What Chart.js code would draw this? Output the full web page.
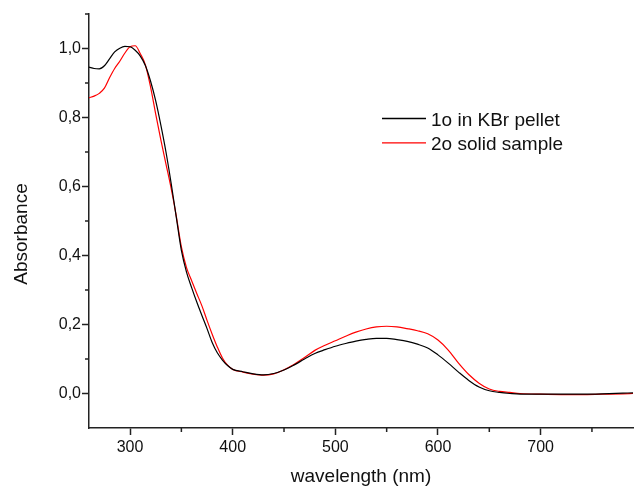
<!DOCTYPE html>
<html>
<head>
<meta charset="utf-8">
<script src="https://cdn.jsdelivr.net/npm/chart.js@4/dist/chart.umd.min.js"></script>
<style>
  body { margin: 0; background: #fff; }
  #wrap { width: 634px; height: 488px; }
</style>
</head>
<body>
<div id="wrap"><canvas id="grafico"></canvas></div>
<script>
// wavelength (nm)
const wavelengths = [
    260, 265, 270, 275, 280, 285, 290, 295, 300, 305, 310, 315, 320, 325, 330,
    335, 340, 345, 350, 355, 360, 365, 370, 375, 380, 385, 390, 395, 400,
    410, 420, 430, 440, 450, 460, 470, 480, 490, 500, 510, 520, 530, 540, 550,
    560, 570, 580, 590, 600, 610, 620, 630, 640, 650, 660, 670, 680,
    700, 720, 740, 760, 780, 790
];

// 1o in KBr pellet
const kbr = [
    0.946, 0.942, 0.941, 0.950, 0.970, 0.990, 1.001, 1.006, 1.005, 0.995, 0.978, 0.950, 0.905, 0.848, 0.778,
    0.700, 0.610, 0.512, 0.415, 0.352, 0.307, 0.265, 0.226, 0.188, 0.148, 0.118, 0.097, 0.081, 0.070,
    0.063, 0.057, 0.054, 0.058, 0.068, 0.083, 0.100, 0.116, 0.127, 0.137, 0.145, 0.152, 0.157, 0.160, 0.160,
    0.156, 0.151, 0.143, 0.132, 0.112, 0.088, 0.062, 0.038, 0.019, 0.008, 0.003, 0.000, -0.002,
    -0.002, -0.002, -0.002, -0.001, 0.001, 0.002
];

// 2o solid sample
const solid = [
    0.857, 0.862, 0.870, 0.885, 0.915, 0.942, 0.963, 0.987, 1.005, 1.008, 0.985, 0.952, 0.888, 0.810, 0.735,
    0.665, 0.595, 0.515, 0.425, 0.365, 0.327, 0.290, 0.254, 0.212, 0.172, 0.135, 0.103, 0.082, 0.070,
    0.062, 0.056, 0.053, 0.057, 0.069, 0.085, 0.104, 0.125, 0.140, 0.153, 0.166, 0.178, 0.187, 0.193, 0.195,
    0.193, 0.188, 0.182, 0.173, 0.155, 0.126, 0.088, 0.055, 0.030, 0.013, 0.006, 0.003, 0.000,
    -0.002, -0.003, -0.003, -0.002, -0.001, 0.000
];

const seriesLabels = ['1o in KBr pellet', '2o solid sample'];

const xTicks = [300, 400, 500, 600, 700];
const xMinor = [350, 450, 550, 650, 750];
const yTicks = [0, 0.2, 0.4, 0.6, 0.8, 1.0];
const yMinor = [0.1, 0.3, 0.5, 0.7, 0.9, 1.1];

const fonte = 'Arial, "Liberation Sans", sans-serif';
const corEixo = '#222';
const corTexto = '#111';

// ticks menores + legenda + titulo do eixo y
const extras = {
    id: 'extras',
    afterDraw(chart) {
        const { ctx, scales: { x, y } } = chart;
        ctx.save();
        ctx.strokeStyle = corEixo;
        ctx.lineWidth = 1.5;
        ctx.beginPath();
        xMinor.forEach(v => {
            const px = x.getPixelForValue(v);
            ctx.moveTo(px, x.top);
            ctx.lineTo(px, x.top + 4);
        });
        yMinor.forEach(v => {
            const py = y.getPixelForValue(v);
            ctx.moveTo(y.right, py);
            ctx.lineTo(y.right - 4, py);
        });
        ctx.stroke();

        // legenda
        ctx.font = '19px ' + fonte;
        ctx.textBaseline = 'alphabetic';
        chart.data.datasets.forEach((ds, i) => {
            const ly = 118.5 + i * 24.3;
            ctx.strokeStyle = ds.borderColor;
            ctx.lineWidth = 1.3;
            ctx.beginPath();
            ctx.moveTo(382, ly);
            ctx.lineTo(426, ly);
            ctx.stroke();
            ctx.fillStyle = corTexto;
            ctx.fillText(ds.label, 431, ly + 7.5);
        });

        // titulo y
        ctx.translate(26.5, 234);
        ctx.rotate(-Math.PI / 2);
        ctx.textAlign = 'center';
        ctx.fillText('Absorbance', 0, 0);
        ctx.restore();
    }
};

const ctx = document.getElementById('grafico').getContext('2d');
new Chart(ctx, {
    type: 'line',
    data: {
        datasets: [
            {
                label: seriesLabels[0],
                data: wavelengths.map((w, i) => ({ x: w, y: kbr[i] })),
                borderColor: '#000',
                borderWidth: 1.2
            },
            {
                label: seriesLabels[1],
                data: wavelengths.map((w, i) => ({ x: w, y: solid[i] })),
                borderColor: '#ff0000',
                borderWidth: 1.2
            }
        ]
    },
    options: {
        responsive: true,
        maintainAspectRatio: false,
        animation: false,
        devicePixelRatio: 1,
        layout: { padding: { top: 14, right: 1, bottom: 0, left: 0 } },
        elements: {
            point: { radius: 0 },
            line: { cubicInterpolationMode: 'monotone' }
        },
        plugins: {
            legend: { display: false },
            tooltip: { enabled: false }
        },
        scales: {
            x: {
                type: 'linear',
                min: 260,
                max: 790,
                afterBuildTicks: s => { s.ticks = xTicks.map(v => ({ value: v })); },
                afterFit: s => { s.height = 60; },
                border: { display: true, color: corEixo, width: 1.5 },
                grid: { drawOnChartArea: false, drawTicks: true, tickLength: 7, tickColor: corEixo, tickWidth: 1.5 },
                ticks: { color: corTexto, font: { family: fonte, size: 16 }, padding: 3, maxRotation: 0 },
                title: {
                    display: true,
                    text: 'wavelength (nm)',
                    color: corTexto,
                    font: { family: fonte, size: 19 },
                    padding: { top: 0, bottom: 0 }
                }
            },
            y: {
                min: -0.1,
                max: 1.1,
                afterBuildTicks: s => { s.ticks = yTicks.map(v => ({ value: v })); },
                afterFit: s => { s.width = 89; },
                border: { display: true, color: corEixo, width: 1.5 },
                grid: { drawOnChartArea: false, drawTicks: true, tickLength: 7, tickColor: corEixo, tickWidth: 1.5 },
                ticks: {
                    color: corTexto,
                    font: { family: fonte, size: 16 },
                    padding: 1,
                    callback: v => v.toFixed(1).replace('.', ',')
                }
            }
        }
    },
    plugins: [extras]
});
</script>
</body>
</html>
